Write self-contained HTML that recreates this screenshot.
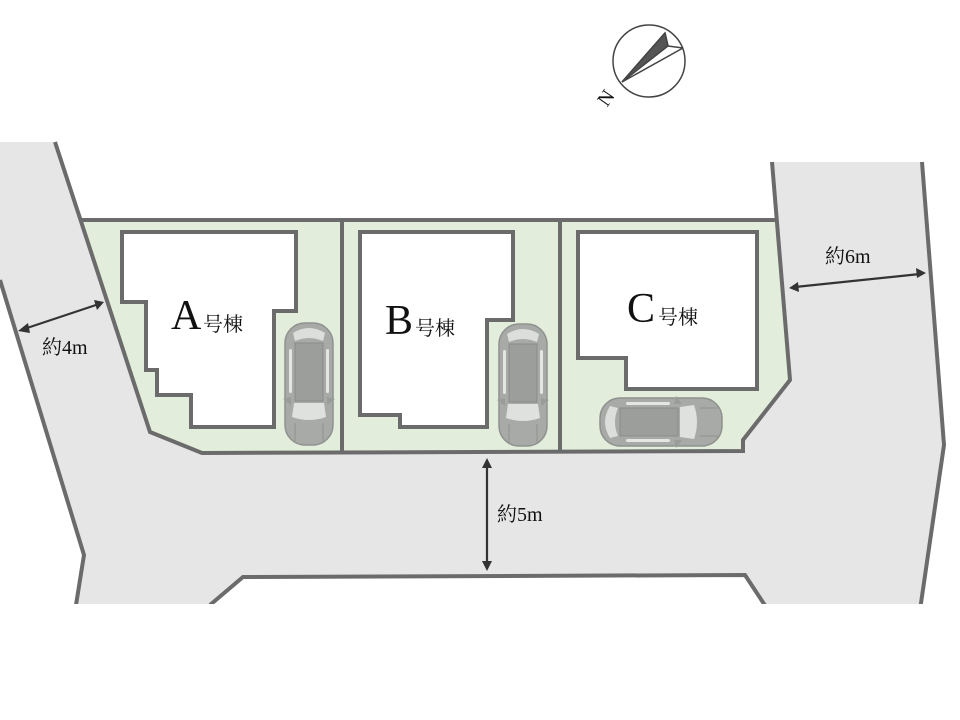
<!DOCTYPE html>
<html><head><meta charset="utf-8"><style>
html,body{margin:0;padding:0;background:#fff;}
svg{display:block}
text{font-family:"Liberation Serif","Noto Serif CJK SC",serif;fill:#111}
</style></head><body>
<svg width="960" height="720" viewBox="0 0 960 720" xmlns="http://www.w3.org/2000/svg">
<defs>
<g id="car">
<rect x="0" y="0" width="48" height="122" rx="20" fill="#a8aaa7" stroke="#8f918e" stroke-width="1.5"/>
<path d="M8 10 Q24 0 40 10 L38 18 Q24 12 10 18Z" fill="#dcdedb"/>
<rect x="10" y="20" width="28" height="58" fill="#9c9e9b" stroke="#8a8c89"/>
<path d="M9 80 L39 80 L41 94 Q24 100 7 94Z" fill="#dfe1de"/>
<rect x="4" y="26" width="3" height="44" rx="1.5" fill="#e4e6e3"/>
<rect x="41" y="26" width="3" height="44" rx="1.5" fill="#e4e6e3"/>
<path d="M-2 76 L6 74 L6 82Z M50 76 L42 74 L42 82Z" fill="#9a9c99"/>
<path d="M10 100 L10 118 M38 100 L38 118" stroke="#8f918e" fill="none"/>
</g>
</defs>

<!-- road -->
<polygon points="0,142 55,142 150,432 202,453 743,451 743,440 790,380 772,162 922,162 944,445 920,610 768,610 745,575 243,577 210,605 76,605 84,555 0,280" fill="#e6e6e6"/>
<!-- lot -->
<polygon points="81,220 777,220 790,380 743,440 743,451 202,453 150,432" fill="#e2eedb"/>

<g fill="none" stroke="#6b6b6b" stroke-width="4" stroke-linejoin="miter">
<polyline points="55,142 150,432 202,453 743,451 743,440 790,380 772,162"/>
<polyline points="81,220 777,220"/>
<line x1="342" y1="220" x2="342" y2="452"/>
<line x1="560" y1="220" x2="560" y2="452"/>
<polyline points="922,162 944,445 920,610"/>
<polyline points="0,280 84,555 76,605"/>
<polyline points="210,605 243,577 745,575 768,610"/>
</g>
<rect x="0" y="604" width="960" height="116" fill="#fff"/>

<!-- buildings -->
<g fill="#fff" stroke="#6b6b6b" stroke-width="4">
<polygon points="122,232 296,232 296,311 274,311 274,427 191,427 191,395 157,395 157,370 146,370 146,302 122,302"/>
<polygon points="360,232 513,232 513,320 487,320 487,427 400,427 400,415 360,415"/>
<polygon points="578,232 757,232 757,389 626,389 626,358 578,358"/>
</g>

<!-- cars -->
<use href="#car" transform="translate(285,323)"/>
<use href="#car" transform="translate(499,324)"/>
<use href="#car" transform="translate(600,446) rotate(-90)"/>

<!-- labels -->
<text x="171" y="329" font-size="42">A</text><text x="203" y="331" font-size="20">号棟</text>
<text x="385" y="334" font-size="42">B</text><text x="415" y="335" font-size="20">号棟</text>
<text x="627" y="322" font-size="42">C</text><text x="658" y="324" font-size="20">号棟</text>

<text x="42" y="354" font-size="20">約4m</text>
<text x="825" y="263" font-size="20">約6m</text>
<text x="497" y="521" font-size="20">約5m</text>

<!-- arrows -->
<g stroke="#333" stroke-width="2.2" fill="#333">
<line x1="24" y1="329" x2="99" y2="304"/>
<polygon points="18,331 28,323 30,333" stroke="none"/>
<polygon points="104,302 94,300 97,310" stroke="none"/>
<line x1="795" y1="287" x2="920" y2="274"/>
<polygon points="789,288 798,282 799,292" stroke="none"/>
<polygon points="926,273 916,268 917,278" stroke="none"/>
<line x1="487" y1="464" x2="487" y2="564"/>
<polygon points="487,458 482,468 492,468" stroke="none"/>
<polygon points="487,571 482,561 492,561" stroke="none"/>
</g>

<!-- compass -->
<g stroke="#444" stroke-width="1.5" fill="none">
<circle cx="649" cy="61" r="36"/>
<line x1="622" y1="82" x2="665" y2="33"/>
<line x1="622" y1="82" x2="683" y2="48"/>
<line x1="665" y1="33" x2="668" y2="46"/>
<line x1="668" y1="46" x2="683" y2="48"/>
<polygon points="622,82 665,33 668,46" fill="#555"/>
</g>
<text x="598" y="104" font-size="20" transform="rotate(-55 606 97)">N</text>
</svg>
</body></html>
